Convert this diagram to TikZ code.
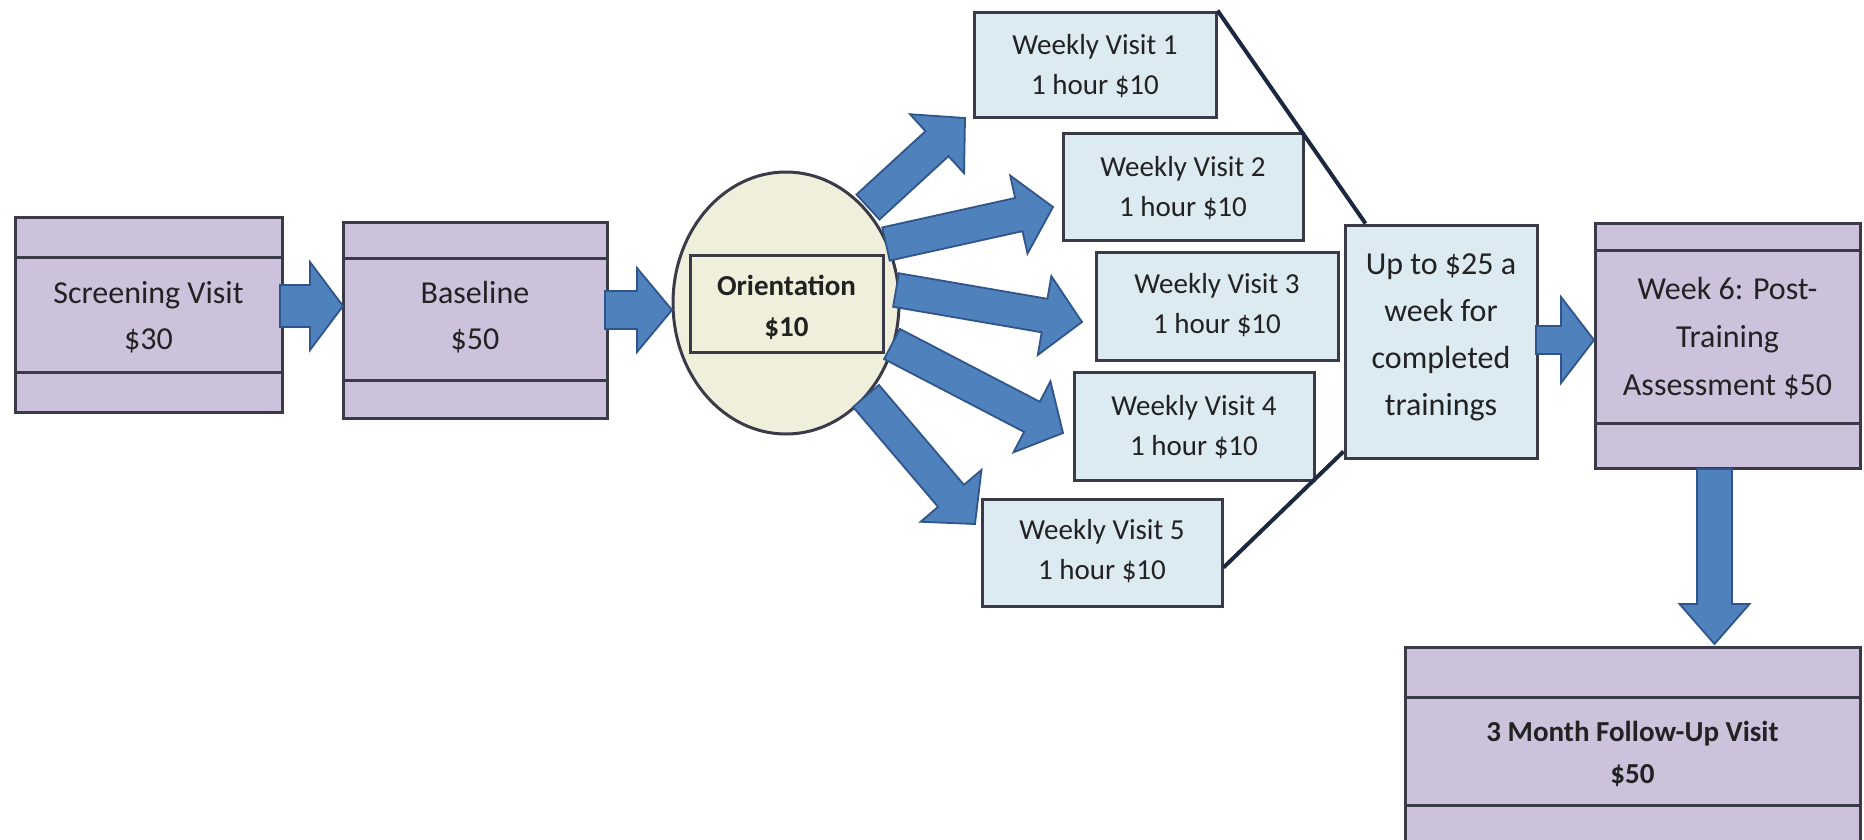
\documentclass[tikz,border=0pt]{standalone}
\usepackage{fontspec}
\setmainfont{Carlito}
\usetikzlibrary{calc,shapes.geometric}
\definecolor{purp}{HTML}{CCC2DC}
\definecolor{wkblue}{HTML}{DCEAF2}
\definecolor{cream}{HTML}{EFEFDB}
\definecolor{arrfill}{HTML}{4F81BD}
\definecolor{arrdraw}{HTML}{2F558A}
\definecolor{edge}{HTML}{3A3A48}
\definecolor{connc}{HTML}{1C2740}
\definecolor{txt}{HTML}{222222}
% #1 start, #2 tip, #3 shaft half width, #4 head half width, #5 head length
\newcommand{\fatarrow}[5]{%
  \coordinate (fa-h) at ($(#2)!#5pt!(#1)$);
  \draw[fat] ($(#1)!#3pt!90:(#2)$) -- ($(fa-h)!#3pt!90:(#2)$) -- ($(fa-h)!#4pt!90:(#2)$)
    -- (#2) -- ($(fa-h)!#4pt!-90:(#2)$) -- ($(fa-h)!#3pt!-90:(#2)$) -- ($(#1)!#3pt!-90:(#2)$) -- cycle;
}
\begin{document}
\begin{tikzpicture}[x=1pt,y=-1pt,
  pbox/.style={draw=edge, fill=purp, line width=3pt, rectangle, inner sep=0pt},
  wbox/.style={draw=edge, fill=wkblue, line width=3pt, rectangle, inner sep=0pt},
  lbl/.style={text=txt, align=center, font=\fontsize{32pt}{46pt}\selectfont, inner sep=0pt},
  wlbl/.style={text=txt, align=center, font=\fontsize{29pt}{40pt}\selectfont, inner sep=0pt},
  blbl/.style={text=txt, align=center, font=\bfseries\fontsize{29pt}{41pt}\selectfont, inner sep=0pt},
  fat/.style={fill=arrfill, draw=arrdraw, line width=1.8pt, line join=miter},
  conn/.style={draw=connc, line width=4pt},
  band/.style={draw=edge, line width=3pt}]
\useasboundingbox (0,0) rectangle (1864,839);
\clip (0,0) rectangle (1864,839);
\fill[white] (0,0) rectangle (1864,839);

% Screening
\node[pbox, minimum width=267pt, minimum height=195pt] (scr) at (148.5,314.5) {};
\draw[band] (scr.west |- 0,257) -- (scr.east |- 0,257);
\draw[band] (scr.west |- 0,372) -- (scr.east |- 0,372);
\node[lbl] (scrt) at (148.5,317) {Screening Visit\\\$30};

% Baseline
\node[pbox, minimum width=264pt, minimum height=196pt] (base) at (475,320) {};
\draw[band] (base.west |- 0,258) -- (base.east |- 0,258);
\draw[band] (base.west |- 0,380) -- (base.east |- 0,380);
\node[lbl] (baset) at (475,317) {Baseline\\\$50};

% Orientation ellipse
\node[draw=edge, fill=cream, line width=3pt, ellipse, minimum width=226pt, minimum height=262pt, inner sep=0pt] (ori) at (786,303) {};
\node[draw=edge, fill=cream, line width=3pt, rectangle, minimum width=193pt, minimum height=97pt, inner sep=0pt] (orib) at (786.5,303.5) {};
\node[blbl] (orit) at (786.5,307) {Orientation\\\$10};

% Weekly boxes
\node[wbox, minimum width=242pt, minimum height=105pt] (wv1) at (1095,64.5) {};
\node[wlbl] (wv1t) at (1095,66) {Weekly Visit 1\\1 hour \$10};
\node[wbox, minimum width=240pt, minimum height=107pt] (wv2) at (1183,186.5) {};
\node[wlbl] (wv2t) at (1183,188) {Weekly Visit 2\\1 hour \$10};
\node[wbox, minimum width=242pt, minimum height=108pt] (wv3) at (1217,306) {};
\node[wlbl] (wv3t) at (1217,305) {Weekly Visit 3\\1 hour \$10};
\node[wbox, minimum width=240pt, minimum height=108pt] (wv4) at (1194,426) {};
\node[wlbl] (wv4t) at (1194,427) {Weekly Visit 4\\1 hour \$10};
\node[wbox, minimum width=240pt, minimum height=107pt] (wv5) at (1102,552.5) {};
\node[wlbl] (wv5t) at (1102,551) {Weekly Visit 5\\1 hour \$10};

% Up to $25 box
\node[wbox, minimum width=192pt, minimum height=233pt] (up) at (1441,341.5) {};
\node[lbl, font=\fontsize{32pt}{47pt}\selectfont] (upt) at (1441,337) {Up to \$25 a\\week for\\completed\\trainings};

% Week 6
\node[pbox, minimum width=265pt, minimum height=245pt] (w6) at (1727.5,345.5) {};
\draw[band] (w6.west |- 0,250) -- (w6.east |- 0,250);
\draw[band] (w6.west |- 0,423) -- (w6.east |- 0,423);
\node[lbl, font=\fontsize{32pt}{48pt}\selectfont] (w6t) at (1727.5,338) {Week 6: Post-\\Training\\Assessment \$50};

% 3 Month
\node[pbox, minimum width=455pt, minimum height=223pt] (m3) at (1632.5,758.5) {};
\draw[band] (m3.west |- 0,697) -- (m3.east |- 0,697);
\draw[band] (m3.west |- 0,805) -- (m3.east |- 0,805);
\node[blbl, font=\bfseries\fontsize{29pt}{42pt}\selectfont] (m3t) at (1632.5,754) {3 Month Follow-Up Visit\\\$50};

% connecting lines to Up box
\draw[conn] (wv1.north east) -- ($(up.north west)+(22,0)$);
\draw[conn] ($(wv5.east)+(0,15)$) -- ($(up.south west)+(0,-8)$);

% fat arrows
\coordinate (a1s) at (280,306); \coordinate (a1e) at (343,306);
\fatarrow{a1s}{a1e}{21}{44}{33}
\coordinate (a2s) at (605,310); \coordinate (a2e) at (672,310);
\fatarrow{a2s}{a2e}{19}{42}{35}
\coordinate (aAs) at (868,207); \coordinate (aAe) at (965,118);
\fatarrow{aAs}{aAe}{17}{40}{38}
\coordinate (aBs) at (886,244); \coordinate (aBe) at (1053,207);
\fatarrow{aBs}{aBe}{17}{40}{35}
\coordinate (aCs) at (896,290); \coordinate (aCe) at (1082,322);
\fatarrow{aCs}{aCe}{17}{40}{38}
\coordinate (aDs) at (892,344); \coordinate (aDe) at (1063,433);
\fatarrow{aDs}{aDe}{17}{40}{35}
\coordinate (aEs) at (866,396); \coordinate (aEe) at (975,524);
\fatarrow{aEs}{aEe}{17}{40}{37}
\coordinate (aFs) at (1536,340); \coordinate (aFe) at (1594,340);
\fatarrow{aFs}{aFe}{14}{43}{33}
\coordinate (aGs) at (1714.5,469); \coordinate (aGe) at (1714.5,644);
\fatarrow{aGs}{aGe}{17.5}{35}{40}
\end{tikzpicture}
\end{document}
